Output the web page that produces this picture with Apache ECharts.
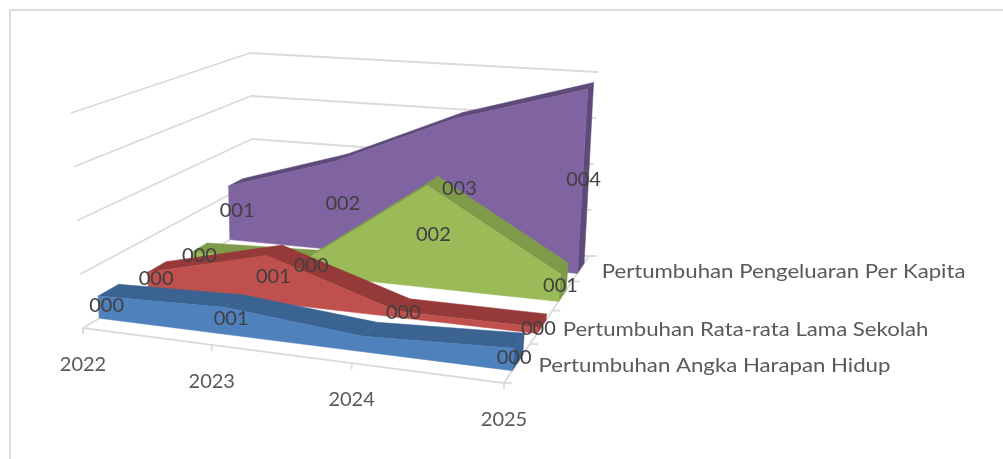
<!DOCTYPE html>
<html>
<head>
<meta charset="utf-8">
<style>
  html, body { margin: 0; padding: 0; background: #fff; }
  #chart { width: 1003px; height: 459px; }
</style>
<script src="https://cdn.jsdelivr.net/npm/echarts@6/dist/echarts.min.js"></script>
</head>
<body>
<div id="chart"></div>
<script>
const categories = ['2022', '2023', '2024', '2025'];
const levels = [0, 1, 2, 3, 4];
const depthTicks = [0, 0.25, 0.5, 0.75, 1];

// front to back, same order as the depth axis
const bandNames = ['Pertumbuhan Angka Harapan Hidup', 'Pertumbuhan Rata-rata Lama Sekolah', '', 'Pertumbuhan Pengeluaran Per Kapita'];
const blueValues = [0.42, 0.5, 0.28, 0.4];
const redValues = [0.33, 0.92, 0.12, 0.12];
const greenValues = [0.22, 0.3, 2.08, 0.55];
const purpleValues = [1.2, 1.95, 3.05, 3.87];
const blueLabels = ['000', '001', '', '000'];
const redLabels = ['000', '001', '000', '000'];
const greenLabels = ['000', '000', '002', '001'];
const purpleLabels = ['001', '002', '003', '004'];

const frontColors = ['#4F81BD', '#C0504D', '#9BBB59', '#8064A2'];
const topColors = ['#3B6392', '#953A38', '#7F9A48', '#5E4A79'];
const bandValues = [blueValues, redValues, greenValues, purpleValues];
const bandLabels = [blueLabels, redLabels, greenLabels, purpleLabels];

const WIDTH = 1003;
const HEIGHT = 459;
const BAND_DEPTH = 0.1;
const GRID_COLOR = '#DADADA';
const FONT = 'Lato';
const LABEL_SHIFT = [8, 6, 6, 1]; // data labels sit a bit right of their point, less at the last year

// corners of the floor and of the plane at the top level, on the screen
const floorPlane = planeFromCorners([83, 328], [504, 383], [589, 256], [254, 225]);
const topPlane = planeFromCorners([71, 113], [522, 155], [598, 72], [250, 53]);

function planeFromCorners(p0, p1, p2, p3) {
  const dx1 = p1[0] - p2[0], dx2 = p3[0] - p2[0], sx = p0[0] - p1[0] + p2[0] - p3[0];
  const dy1 = p1[1] - p2[1], dy2 = p3[1] - p2[1], sy = p0[1] - p1[1] + p2[1] - p3[1];
  const den = dx1 * dy2 - dx2 * dy1;
  const g = (sx * dy2 - dx2 * sy) / den;
  const h = (dx1 * sy - sx * dy1) / den;
  return (u, v) => {
    const w = g * u + h * v + 1;
    return [
      ((p1[0] - p0[0] + g * p1[0]) * u + (p3[0] - p0[0] + h * p3[0]) * v + p0[0]) / w,
      ((p1[1] - p0[1] + g * p1[1]) * u + (p3[1] - p0[1] + h * p3[1]) * v + p0[1]) / w
    ];
  };
}

// the hidden grid gives category/value -> fraction, the planes add the depth
const project = (api, catIndex, value, depth) => {
  const c = api.coord([catIndex, value]);
  const u = c[0] / WIDTH;
  const t = 1 - c[1] / HEIGHT;
  const a = floorPlane(u, depth);
  const b = topPlane(u, depth);
  return [a[0] + (b[0] - a[0]) * t, a[1] + (b[1] - a[1]) * t];
};

const bandFront = (k) => 0.075 + k * 0.25;

const polygon = (points, fill, z2) => ({
  type: 'polygon',
  z2,
  shape: { points },
  style: { fill, stroke: fill, lineWidth: 0.5 }
});

const line = (a, b) => ({
  type: 'line',
  shape: { x1: a[0], y1: a[1], x2: b[0], y2: b[1] },
  style: { stroke: GRID_COLOR, lineWidth: 1.8 }
});

const text = (x, y, value, color, align, scaleX) => ({
  type: 'text',
  x, y,
  scaleX: scaleX || 1,
  style: { text: value, fill: color, font: '20px ' + FONT, textAlign: align, textVerticalAlign: 'middle' }
});

const bandSeries = (k) => ({
  type: 'custom',
  z: 2 + (3 - k),
  silent: true,
  clip: false,
  data: bandValues[k].map((v, i) => [i, v]),
  renderItem: (params, api) => {
    const i = api.value(0);
    const v = api.value(1);
    const values = bandValues[k];
    const d0 = bandFront(k);
    const d1 = d0 + BAND_DEPTH;
    const last = values.length - 1;
    const children = [];
    if (i < last) {
      const n = values[i + 1];
      children.push(polygon([project(api, i, v, d0), project(api, i + 1, n, d0), project(api, i + 1, n, d1), project(api, i, v, d1)], topColors[k], 0));
    } else {
      children.push(polygon([project(api, i, 0, d0), project(api, i, v, d0), project(api, i, v, d1), project(api, i, 0, d1)], topColors[k], 0));
    }
    // one front face for the whole band, drawn over the top faces
    if (i === 0) {
      const face = values.map((val, c) => project(api, c, val, d0));
      face.push(project(api, last, 0, d0), project(api, 0, 0, d0));
      children.push(polygon(face, frontColors[k], 1));
    }
    return { type: 'group', children };
  }
});

const wallSeries = {
  type: 'custom',
  z: 1,
  silent: true,
  clip: false,
  data: levels.map((l) => [l]),
  renderItem: (params, api) => {
    const l = api.value(0);
    return {
      type: 'group',
      children: [
        line(project(api, 0, l, 0), project(api, 0, l, 1)),
        line(project(api, 0, l, 1), project(api, 3, l, 1))
      ]
    };
  }
};

const floorSeries = {
  type: 'custom',
  z: 1,
  silent: true,
  clip: false,
  data: categories.map((c, i) => [i]),
  renderItem: (params, api) => {
    const i = api.value(0);
    const p = project(api, i, 0, 0);
    const children = [line(p, [p[0], p[1] + 6])];
    if (i < categories.length - 1) children.push(line(p, project(api, i + 1, 0, 0)));
    children.push(text(p[0], p[1] + 36.5, categories[i], '#595959', 'center'));
    return { type: 'group', children };
  }
};

const depthSeries = {
  type: 'custom',
  z: 1,
  silent: true,
  clip: false,
  data: depthTicks.map((d) => [d]),
  renderItem: (params, api) => {
    const d = api.value(0);
    const p = project(api, 3, 0, d);
    const children = [line(p, [p[0] + 8, p[1]])];
    if (d < 1) children.push(line(p, project(api, 3, 0, d + 0.25)));
    return { type: 'group', children };
  }
};

const nameSeries = {
  type: 'custom',
  z: 10,
  silent: true,
  clip: false,
  data: bandNames.map((n, k) => [k]),
  renderItem: (params, api) => {
    const k = api.value(0);
    const p = project(api, 3, 0, k * 0.25 + 0.125);
    return text(p[0] + 21, p[1] + 3, bandNames[k], '#595959', 'left', 1.11);
  }
};

const labelRows = [];
bandValues.forEach((values, k) => {
  values.forEach((v, i) => labelRows.push([i, v, k]));
});

const labelSeries = {
  type: 'custom',
  z: 10,
  silent: true,
  clip: false,
  data: labelRows,
  renderItem: (params, api) => {
    const i = api.value(0);
    const k = api.value(2);
    const p = project(api, i, api.value(1) / 2, bandFront(k));
    return text(p[0] + LABEL_SHIFT[i], p[1] - 2, bandLabels[k][i], '#404040', 'center');
  }
};

const chart = echarts.init(document.getElementById('chart'));
chart.setOption({
  animation: false,
  backgroundColor: '#fff',
  grid: { left: 0, right: 0, top: 0, bottom: 0, show: false },
  xAxis: { type: 'value', min: 0, max: 3, show: false },
  yAxis: { type: 'value', min: 0, max: 4, show: false },
  graphic: [{
    type: 'rect',
    shape: { x: 10, y: 10, width: 1100, height: 600 },
    style: { fill: 'none', stroke: '#DEDEDE', lineWidth: 2 },
    silent: true
  }],
  series: [wallSeries, floorSeries, depthSeries, bandSeries(3), bandSeries(2), bandSeries(1), bandSeries(0), labelSeries, nameSeries]
});
</script>
</body>
</html>
